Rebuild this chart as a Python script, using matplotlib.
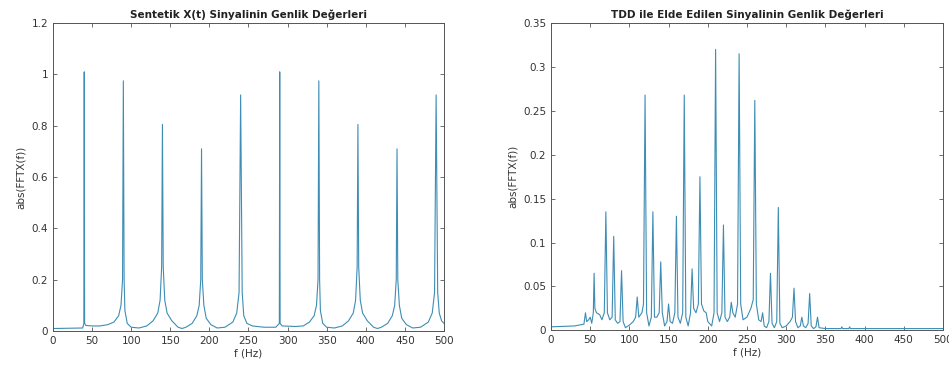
import matplotlib
matplotlib.use("Agg")
import matplotlib.pyplot as plt
from matplotlib.ticker import FuncFormatter, MultipleLocator

# ---- Left chart: spectrum of the synthetic signal (sampled curve points) ----
left_f = [0, 38, 39.5, 40, 40.5, 42, 50, 60, 70, 78, 84, 87, 89, 90, 91, 92, 95,
          100, 110, 120, 128, 134, 137, 139, 140, 141, 143, 146, 152, 160, 165,
          170, 178, 184, 187, 189, 190, 191, 193, 196, 202, 210, 220, 230, 235,
          238, 240, 242, 244, 248, 255, 270, 285, 289.5, 290, 290.5, 293, 310,
          320, 328, 334, 337, 339, 340, 341, 342, 345, 350, 360, 370, 378, 384,
          387, 389, 390, 391, 393, 396, 402, 410, 415, 420, 428, 434, 437, 439,
          440, 441, 443, 446, 452, 460, 470, 480, 485, 488, 490, 492, 494, 497, 500]
left_a = [0.010, 0.012, 0.030, 1.010, 0.030, 0.022, 0.020, 0.020, 0.025, 0.035,
          0.060, 0.100, 0.200, 0.975, 0.200, 0.080, 0.030,
          0.015, 0.012, 0.020, 0.040, 0.070, 0.120, 0.250, 0.805, 0.250, 0.120,
          0.070, 0.040, 0.015, 0.010,
          0.015, 0.030, 0.060, 0.100, 0.200, 0.710, 0.200, 0.100, 0.050, 0.025,
          0.012, 0.015, 0.035, 0.070,
          0.150, 0.920, 0.150, 0.060, 0.030, 0.020, 0.015, 0.015, 0.030, 1.010,
          0.030, 0.020, 0.018,
          0.020, 0.035, 0.060, 0.100, 0.200, 0.975, 0.200, 0.080, 0.030, 0.015,
          0.012, 0.020, 0.040, 0.070,
          0.120, 0.250, 0.805, 0.250, 0.120, 0.070, 0.040, 0.015, 0.010, 0.015,
          0.030, 0.060, 0.100, 0.200,
          0.710, 0.200, 0.100, 0.050, 0.025, 0.012, 0.015, 0.035, 0.070, 0.150,
          0.920, 0.150, 0.070, 0.040, 0.030]

# ---- Right chart: spectrum of the signal obtained by TDD ----
right_f = [0, 30, 42, 44, 45.5, 48, 50, 52, 54, 55, 56, 58, 62, 65, 68, 70, 72, 75,
           78, 80, 82, 85, 88, 90, 92, 95, 100, 105, 108, 110, 112, 116, 118, 120,
           122, 125, 128, 130, 132, 135, 138, 140, 142, 145, 148, 150, 152, 155,
           158, 160, 162, 165, 168, 170, 172, 175, 178, 180, 182, 185, 188, 190,
           192, 195, 198, 200, 205, 208, 210, 212, 215, 218, 220, 222, 225, 228,
           230, 232, 235, 238, 240, 242, 245, 250, 255, 258, 260, 262, 265, 268,
           270, 272, 275, 278, 280, 282, 285, 288, 290, 292, 295, 300, 305, 308,
           310, 312, 315, 318, 320, 322, 325, 328, 330, 332, 335, 338, 340, 342,
           350, 370, 371, 372, 380, 381, 382, 400, 500]
right_a = [0.004, 0.005, 0.007, 0.020, 0.010, 0.012, 0.015, 0.008, 0.020, 0.065,
           0.025, 0.020, 0.018, 0.012, 0.020, 0.135, 0.020, 0.012,
           0.015, 0.107, 0.012, 0.008, 0.010, 0.068, 0.010, 0.003, 0.006, 0.010,
           0.015, 0.038, 0.015, 0.020, 0.030, 0.268,
           0.020, 0.005, 0.015, 0.135, 0.015, 0.015, 0.020, 0.078, 0.020, 0.005,
           0.010, 0.030, 0.010, 0.008,
           0.020, 0.130, 0.015, 0.008, 0.020, 0.268, 0.015, 0.005, 0.020, 0.070,
           0.025, 0.020, 0.030, 0.175,
           0.030, 0.022, 0.020, 0.010, 0.005, 0.020, 0.320, 0.020, 0.010, 0.020,
           0.120, 0.015, 0.010, 0.015,
           0.032, 0.020, 0.015, 0.030, 0.315, 0.030, 0.012, 0.015, 0.025, 0.035,
           0.262, 0.030, 0.012, 0.010,
           0.020, 0.005, 0.003, 0.010, 0.065, 0.008, 0.003, 0.010, 0.140, 0.008,
           0.003, 0.005, 0.010, 0.015,
           0.048, 0.010, 0.003, 0.005, 0.015, 0.005, 0.003, 0.008, 0.042, 0.005,
           0.002, 0.004, 0.015, 0.003,
           0.002, 0.002, 0.004, 0.002, 0.002, 0.004, 0.002, 0.002, 0.002]

x_ticks = [0, 50, 100, 150, 200, 250, 300, 350, 400, 450, 500]
left_yticks = [0, 0.2, 0.4, 0.6, 0.8, 1.0, 1.2]
right_yticks = [0, 0.05, 0.1, 0.15, 0.2, 0.25, 0.3, 0.35]

titles = ["Sentetik X(t) Sinyalinin Genlik Değerleri",
          "TDD ile Elde Edilen Sinyalinin Genlik Değerleri"]
xlabel = "f (Hz)"
ylabel = "abs(FFTX(f))"

line_color = "#3d8db5"
axis_color = "#555555"
text_color = "#333333"

plt.rcParams['font.family'] = ['DejaVu Sans']

fig = plt.figure(figsize=(9.49, 3.72), dpi=100)
ax1 = fig.add_axes([0.0558, 0.110, 0.412, 0.828])
ax2 = fig.add_axes([0.5806, 0.112, 0.413, 0.826])

fmt = FuncFormatter(lambda v, p: ("%g" % round(v, 4)))

def style(ax, yticks, ylim, title):
    ax.set_xlim(0, 500)
    ax.set_ylim(*ylim)
    ax.set_xticks(x_ticks)
    ax.set_yticks(yticks)
    ax.xaxis.set_major_formatter(fmt)
    ax.yaxis.set_major_formatter(fmt)
    ax.tick_params(direction='in', top=True, right=True, length=3, width=0.6,
                   colors=axis_color, labelcolor=text_color, labelsize=7.5)
    for s in ax.spines.values():
        s.set_color(axis_color)
        s.set_linewidth(0.7)
    ax.set_title(title, fontsize=7.5, fontweight='bold', color='#222222', pad=4)
    ax.set_xlabel(xlabel, fontsize=7.5, color=text_color, labelpad=2)
    ax.set_ylabel(ylabel, fontsize=7.5, color=text_color, labelpad=4)

ax1.plot(left_f, left_a, color=line_color, linewidth=0.8)
style(ax1, left_yticks, (0, 1.2), titles[0])

ax2.plot(right_f, right_a, color=line_color, linewidth=0.8)
style(ax2, right_yticks, (0, 0.35), titles[1])

fig.savefig("out.png", dpi=100)
